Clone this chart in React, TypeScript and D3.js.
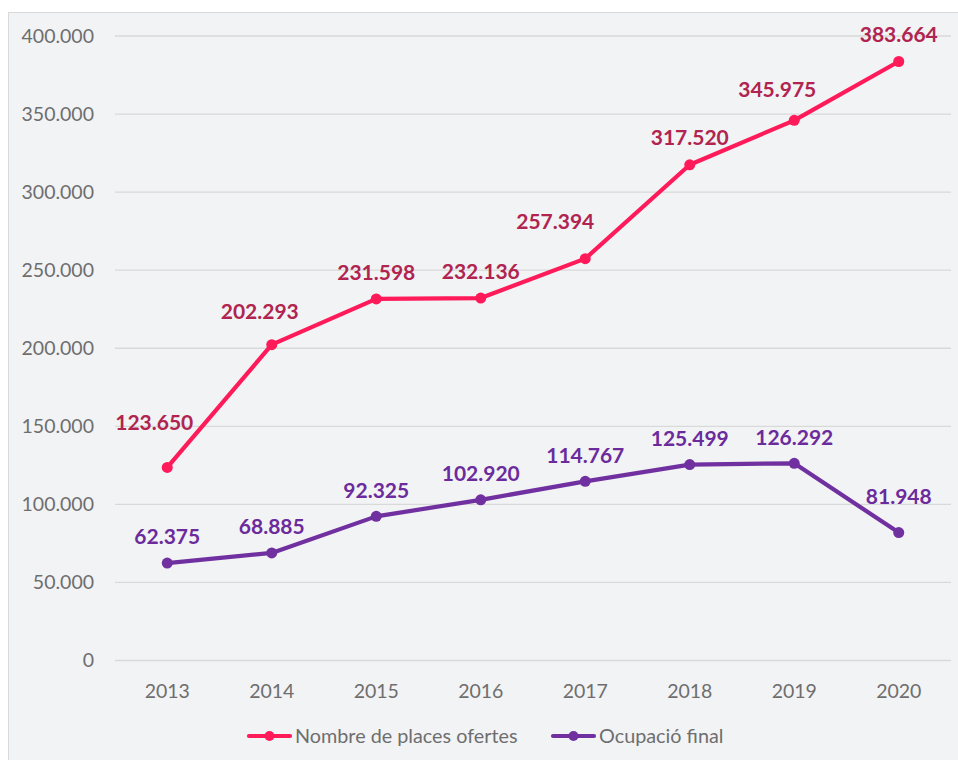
import React from "react";
import * as d3 from "d3";

const years = ["2013", "2014", "2015", "2016", "2017", "2018", "2019", "2020"];
const placesOfertes = [123650, 202293, 231598, 232136, 257394, 317520, 345975, 383664];
const ocupacioFinal = [62375, 68885, 92325, 102920, 114767, 125499, 126292, 81948];
const yTicks = [0, 50000, 100000, 150000, 200000, 250000, 300000, 350000, 400000];
const seriesNames = ["Nombre de places ofertes", "Ocupació final"];

// label placement nudges (dx, dy relative to point), as in the original chart
const placesNudge: [number, number][] = [[-13, -45], [-12, -33], [0, -26], [0, -26], [-30, -37], [0, -27], [-17, -31], [0, -27]];
const ocupNudge: [number, number][] = [[0, -26], [0, -26], [0, -26], [0, -26], [0, -26], [0, -26], [0, -26], [0, -36]];

const W = 958, H = 760;
const left = 115, right = 951, top = 36, bottom = 660.5;

const fmt = (v: number) => d3.format(",")(v).replace(/,/g, ".");

export default function App() {
  const x = d3.scaleBand<string>().domain(years).range([left, right]);
  const y = d3.scaleLinear().domain([0, 400000]).range([bottom, top]);
  const cx = (d: string) => (x(d) as number) + x.bandwidth() / 2;
  const line = d3.line<number>().x((_, i) => cx(years[i])).y((v) => y(v));

  const font = "Lato, 'Open Sans', sans-serif";
  const series = [
    { name: seriesNames[0], values: placesOfertes, nudge: placesNudge, color: "#FF1A5A", label: "#B0244F" },
    { name: seriesNames[1], values: ocupacioFinal, nudge: ocupNudge, color: "#7030A0", label: "#6B2B9C" },
  ];
  const legendX = [249, 553];

  return (
    <svg width={W} height={H} style={{ position: "absolute", left: 0, top: 0 }} fontFamily={font}>
      <rect x={0} y={0} width={W} height={H} fill="#ffffff" />
      <rect x={8.5} y={12.5} width={W} height={H} fill="#F2F3F5" stroke="#D9D9D9" strokeWidth={1} />
      {yTicks.map((t) => (
        <g key={t}>
          <line x1={left} x2={right} y1={y(t)} y2={y(t)} stroke="#D9D9D9" strokeWidth={1.3} />
          <text x={94} y={y(t)} dy="0.35em" textAnchor="end" fontSize={19.5} fill="#6E6E6E">
            {fmt(t)}
          </text>
        </g>
      ))}
      {years.map((yr) => (
        <text key={yr} x={cx(yr)} y={691} dy="0.35em" textAnchor="middle" fontSize={19.5} fill="#6E6E6E">
          {yr}
        </text>
      ))}
      {series.map((s) => (
        <g key={s.name}>
          <path d={line(s.values) || ""} fill="none" stroke={s.color} strokeWidth={4.2} strokeLinejoin="round" />
          {s.values.map((v, i) => (
            <circle key={i} cx={cx(years[i])} cy={y(v)} r={5.5} fill={s.color} />
          ))}
          {s.values.map((v, i) => (
            <text
              key={"l" + i}
              x={cx(years[i]) + s.nudge[i][0]}
              y={y(v) + s.nudge[i][1]}
              dy="0.35em"
              textAnchor="middle"
              fontSize={21}
              fontWeight={700}
              fill={s.label}
            >
              {fmt(v)}
            </text>
          ))}
        </g>
      ))}
      {series.map((s, k) => (
        <g key={"leg" + k}>
          <line x1={legendX[k]} x2={legendX[k] + 41} y1={736} y2={736} stroke={s.color} strokeWidth={4.2} strokeLinecap="round" />
          <circle cx={legendX[k] + 20.5} cy={736} r={5} fill={s.color} />
          <text x={legendX[k] + 46} y={736} dy="0.35em" fontSize={19.8} fill="#6E6E6E">
            {s.name}
          </text>
        </g>
      ))}
    </svg>
  );
}
